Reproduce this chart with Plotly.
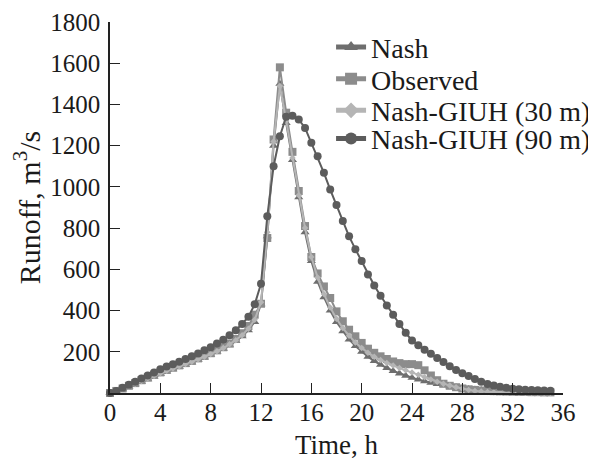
import plotly.graph_objects as go

time_h = [i * 0.5 for i in range(71)]  # 0 .. 35 h

nash = [0, 8, 18, 30, 42, 55, 67, 80, 92, 104, 115, 126, 137, 148, 160, 172, 185, 200, 215, 232,
        252, 275, 305, 345, 430, 760, 1200, 1500, 1310, 1130, 950, 780, 640, 540, 465, 400, 345, 300, 260, 228,
        200, 176, 155, 137, 121, 107, 95, 84, 74, 65, 57, 50, 44, 38, 33, 28, 24, 20, 17, 14,
        12, 10, 8, 7, 6, 5, 4, 3, 3, 2, 2]

observed = [0, 10, 22, 35, 48, 62, 75, 88, 100, 112, 123, 134, 145, 156, 168, 180, 193, 207, 222, 240,
            262, 290, 325, 380, 433, 752, 1230, 1580, 1360, 1170, 980, 810, 660, 580, 517, 461, 396, 348, 307, 275,
            243, 215, 195, 178, 165, 153, 145, 140, 140, 135, 110, 85, 62, 45, 35, 28, 22, 18, 15, 12,
            10, 9, 8, 7, 6, 5, 5, 4, 4, 3, 3]

giuh30 = [0, 9, 20, 32, 45, 58, 71, 84, 96, 108, 119, 130, 141, 152, 164, 176, 189, 203, 218, 236,
          256, 280, 312, 355, 440, 780, 1220, 1490, 1320, 1140, 960, 800, 660, 560, 480, 415, 360, 315, 278, 245,
          218, 195, 176, 160, 146, 133, 121, 110, 99, 88, 77, 66, 55, 45, 36, 28, 21, 15, 10, 7,
          5, 4, 3, 2, 2, 1, 1, 1, 1, 1, 1]

giuh90 = [0, 10, 25, 40, 55, 70, 85, 100, 115, 128, 140, 152, 165, 178, 192, 207, 222, 240, 258, 280,
          305, 335, 370, 430, 530, 857, 1100, 1246, 1340, 1345, 1327, 1286, 1214, 1149, 1068, 987, 912, 835, 760, 698,
          640, 575, 522, 472, 425, 380, 335, 292, 255, 232, 210, 190, 170, 150, 130, 112, 96, 82, 68, 55,
          44, 36, 30, 25, 21, 18, 16, 14, 13, 12, 11]

x_ticks = list(range(0, 37, 4))
y_ticks = list(range(200, 1801, 200))

series = [
    ("Nash", nash, "#6e6e6e", "triangle-up", 8, "legend"),
    ("Observed", observed, "#8c8c8c", "square", 8, "legend2"),
    ("Nash-GIUH (30 m)", giuh30, "#b5b5b5", "diamond", 5, "legend3"),
    ("Nash-GIUH (90 m)", giuh90, "#5c5c5c", "circle", 8, "legend4"),
]

fig = go.Figure()
for name, vals, col, sym, sz, lg in series:
    fig.add_trace(go.Scatter(
        x=time_h, y=vals, name=name, mode="lines+markers",
        line=dict(color=col, width=2),
        marker=dict(symbol=sym, size=sz, color=col),
        cliponaxis=False, legend=lg,
    ))

font_family = "Liberation Serif"
legend_common = dict(x=0.488, xanchor="left", yanchor="middle",
                     bgcolor="rgba(0,0,0,0)", font=dict(size=28),
                     itemsizing="constant")
fig.update_layout(
    width=596, height=461,
    margin=dict(l=102, r=41, t=14, b=76, autoexpand=False),
    paper_bgcolor="white", plot_bgcolor="white",
    font=dict(family=font_family, size=25, color="#1a1a1a"),
    showlegend=True,
    legend=dict(y=0.932, **legend_common),
    legend2=dict(y=0.846, **legend_common),
    legend3=dict(y=0.761, **legend_common),
    legend4=dict(y=0.685, **legend_common),
)
fig.update_xaxes(
    range=[0, 36], tickvals=x_ticks, ticktext=[str(v) for v in x_ticks],
    ticks="inside", ticklen=10, tickwidth=1.2, tickcolor="#222",
    showline=True, linecolor="#222", linewidth=1.5,
    showgrid=False, zeroline=False, automargin=False,
    ticklabelstandoff=-4,
    title=dict(text="Time, h", font=dict(size=27), standoff=10),
)
fig.update_yaxes(
    range=[0, 1800], tickvals=y_ticks, ticktext=[str(v) for v in y_ticks],
    ticks="inside", ticklen=10, tickwidth=1.2, tickcolor="#222",
    showline=True, linecolor="#222", linewidth=1.5,
    showgrid=False, zeroline=False, automargin=False,
    ticklabelstandoff=3,
    title=dict(text="Runoff, m<sup>3</sup>/s", font=dict(size=30), standoff=10),
)

fig.write_html("out.html")
